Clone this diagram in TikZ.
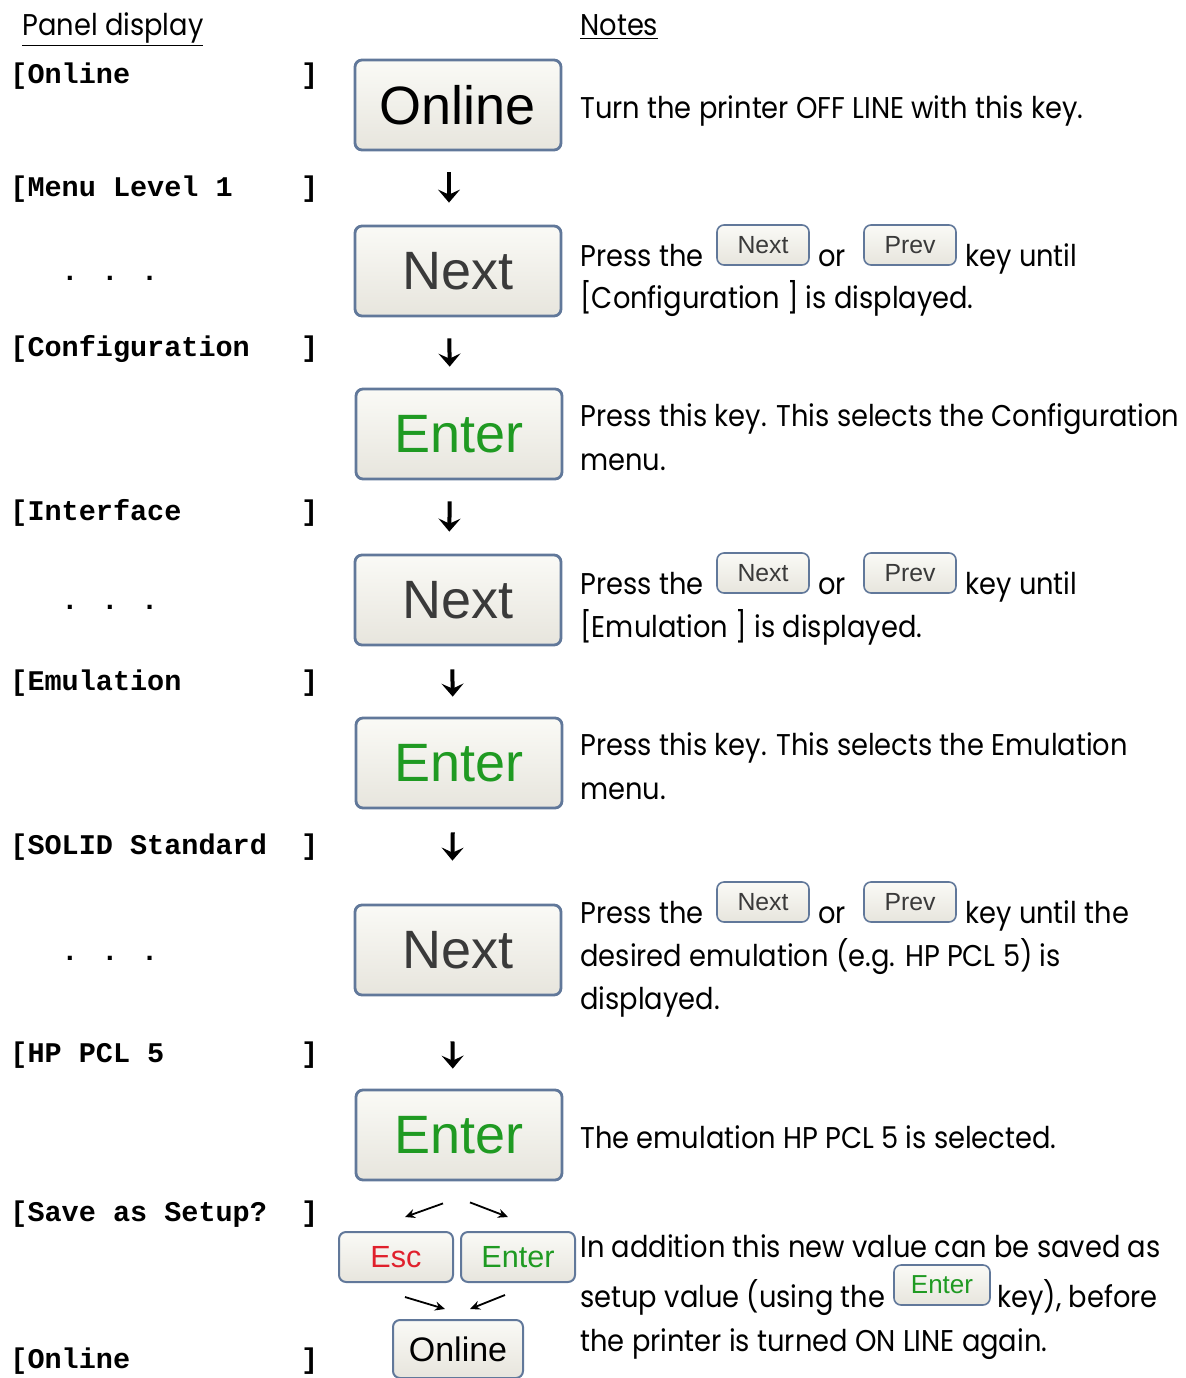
\documentclass[tikz,border=0pt]{standalone}
\usepackage{fontspec}
\setmainfont{Poppins}[FakeStretch=0.91]
\newfontfamily\keyfont{Liberation Sans}
\newfontfamily\lcdfont{Liberation Mono}
\usetikzlibrary{arrows.meta,positioning,calc}

\definecolor{keyrim}{HTML}{61789A}
\definecolor{keytop}{HTML}{FAFAF6}
\definecolor{keybot}{HTML}{E7E5DD}
\definecolor{entgreen}{HTML}{1F9A22}
\definecolor{escred}{HTML}{E0202C}
\definecolor{nexttxt}{HTML}{3A3A3A}

\newcommand\notefont{\fontsize{15pt}{18pt}\selectfont}
\newcommand\pd[1]{\makebox[10.2em][l]{#1}]}

\begin{document}
\begin{tikzpicture}[x=0.5pt,y=-0.5pt,
  note/.style={anchor=base west,inner sep=0pt,font=\notefont},
  lcd/.style={anchor=base west,inner sep=0pt,
              font=\lcdfont\bfseries\fontsize{14.25pt}{16pt}\selectfont},
  key/.style={draw=keyrim,rounded corners=3.5pt,top color=keytop,
              bottom color=keybot,inner sep=0pt,font=\keyfont},
  bigkey/.style={key,line width=1.4pt,minimum width=103pt,minimum height=45pt,
                 font=\keyfont\fontsize{27pt}{30pt}\selectfont},
  smallkey/.style={key,line width=0.8pt,minimum width=46pt,minimum height=20pt,
                   text=nexttxt,font=\keyfont\fontsize{12.4pt}{14pt}\selectfont},
  midkey/.style={key,line width=1pt,minimum width=57pt,minimum height=25pt,
                 font=\keyfont\fontsize{15.3pt}{17pt}\selectfont},
  down/.style={line width=2pt,-{Stealth[length=6.5pt,width=11pt,inset=2.5pt]}},
  diag/.style={line width=0.9pt,-{Stealth[length=5pt,width=4.5pt]}}]

\useasboundingbox (0,0) rectangle (1186,1378);

% headings
\node[note] (hpanel) at (22,35) {\underline{Panel display}};
\node[note] (hnotes) at (580,35) {\underline{Notes}};

% panel display column
\node[lcd] (l1) at (10,83)   {\pd{[Online}};
\node[lcd] (l2) at (10,196)  {\pd{[Menu Level 1}};
\node[lcd] (d1) at (61,280)  {. . .};
\node[lcd] (l3) at (10,356)  {\pd{[Configuration}};
\node[lcd] (l4) at (10,520)  {\pd{[Interface}};
\node[lcd] (d2) at (61,609)  {. . .};
\node[lcd] (l5) at (10,690)  {\pd{[Emulation}};
\node[lcd] (l6) at (10,854)  {\pd{[SOLID Standard}};
\node[lcd] (d3) at (61,960)  {. . .};
\node[lcd] (l7) at (10,1062) {\pd{[HP PCL 5}};
\node[lcd] (l8) at (10,1221) {\pd{[Save as Setup?}};
\node[lcd] (l9) at (10,1368) {\pd{[Online}};

% keys
\node[bigkey] (k1) at (458,105)  {Online};
\node[bigkey,text=nexttxt] (k2) at (458,271) {Next};
\node[bigkey,text=entgreen] (k3) at (459,434) {Enter};
\node[bigkey,text=nexttxt] (k4) at (458,600) {Next};
\node[bigkey,text=entgreen] (k5) at (459,763) {Enter};
\node[bigkey,text=nexttxt] (k6) at (458,950) {Next};
\node[bigkey,text=entgreen] (k7) at (459,1135) {Enter};
\node[midkey,text=escred] (esc) at (396,1257) {Esc};
\node[midkey,text=entgreen] (ent) at (518,1257) {Enter};
\node[midkey,minimum width=65pt,minimum height=29pt,
      font=\keyfont\fontsize{17pt}{19pt}\selectfont] (onl) at (458,1349) {Online};

\foreach \a/\b/\dx/\s/\e in {k1/k2/-4.5/10.5/11, k2/k3/-4.5/10.5/10.5,
    k3/k4/-4.5/10.5/11, k4/k5/-3/11.5/10, k5/k6/-3/11.5/21.5, k6/k7/-3/22.5/10}
  \draw[down,shorten <=\s pt,shorten >=\e pt]
    ([xshift=\dx pt]\a.south) -- ([xshift=\dx pt]\b.north);

\draw[diag] ($(k7.south)+(-16,22)$) -- ($(esc.north)+(9,-14)$);
\draw[diag] ($(k7.south)+(11,21)$) -- ($(ent.north)+(-10,-14)$);
\draw[diag] ($(esc.south)+(9,14)$) -- ($(onl.north)+(-13,-10)$);
\draw[diag] ($(ent.south)+(-13,12)$) -- ($(onl.north)+(12,-10)$);

% notes column
\node[note] (t1) at (580,118) {Turn the printer OFF LINE with this key.};

\foreach \i/\y/\t in {1/266/key until, 2/594/key until, 3/923/key until the} {
  \node[note] (pa\i) at (580,\y) {Press the};
  \node[smallkey] (nx\i) at (763,\y-21) {Next};
  \node[note] (or\i) at (818,\y) {or};
  \node[smallkey] (pv\i) at (910,\y-21) {Prev};
  \node[note] (ku\i) at (965,\y) {\t};
}
\node[note] (t2) at (580,308)  {[Configuration ] is displayed.};
\node[note] (t3) at (580,426)  {Press this key. This selects the Configuration};
\node[note] (t4) at (580,470)  {menu.};
\node[note] (t5) at (580,637)  {[Emulation ] is displayed.};
\node[note] (t6) at (580,755)  {Press this key. This selects the Emulation};
\node[note] (t7) at (580,799)  {menu.};
\node[note] (t8) at (580,966)  {desired emulation (e.g. HP PCL 5) is};
\node[note] (t9) at (580,1009) {displayed.};
\node[note] (t10) at (580,1148) {The emulation HP PCL 5 is selected.};
\node[note] (t11) at (580,1257) {In addition this new value can be saved as};
\node[note] (t12) at (580,1307) {setup value (using the};
\node[smallkey,text=entgreen,minimum width=48pt,
      font=\keyfont\fontsize{13pt}{15pt}\selectfont] (ek) at (942,1285) {Enter};
\node[note] (t13) at (997,1307) {key), before};
\node[note] (t14) at (580,1351) {the printer is turned ON LINE again.};
\end{tikzpicture}
\end{document}
